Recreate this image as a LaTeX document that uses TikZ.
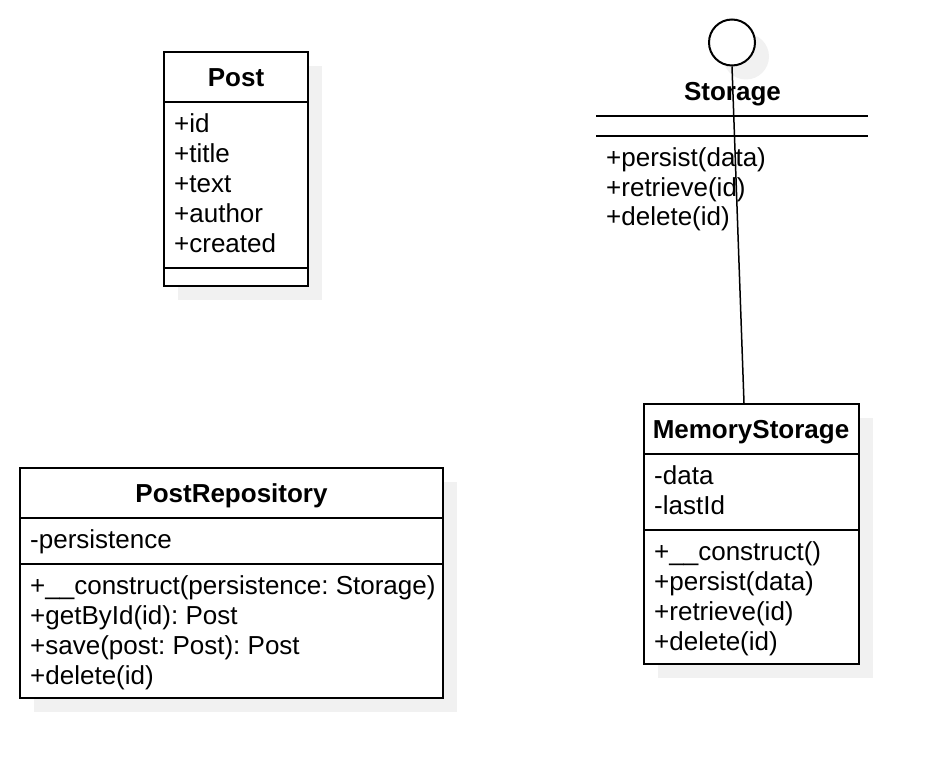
\documentclass[tikz,border=0pt]{standalone}
\usepackage{fontspec}
\setmainfont{Liberation Sans}
\frenchspacing
\usetikzlibrary{shadows}
\definecolor{shadowgray}{RGB}{241,241,241}
\tikzset{
  myshadow/.style={drop shadow={shadow xshift=14pt, shadow yshift=-14pt, fill=shadowgray, opacity=1}},
  classbox/.style={draw=black, line width=2pt, fill=white, rectangle, inner sep=0pt, myshadow},
  ifacecircle/.style={draw=black, line width=2pt, fill=white, circle, inner sep=0pt, minimum size=46pt, myshadow},
  sepline/.style={line width=2pt},
  member/.style={anchor=base west, inner sep=0pt, font=\fontsize{26}{30}\selectfont\frenchspacing},
  classtitle/.style={anchor=base, inner sep=0pt, font=\fontsize{26}{30}\selectfont\bfseries},
  realize/.style={line width=1.5pt},
}
\begin{document}
\begin{tikzpicture}[x=1pt,y=-1pt]
\useasboundingbox (0,0) rectangle (948,778);

% ---------- Post ----------
\node[classbox, minimum width=144pt, minimum height=234pt] (post) at (236,169) {};
\node[classtitle] (posttitle) at (236,87) {Post};
\draw[sepline] (164,102) -- (308,102);
\draw[sepline] (164,268) -- (308,268);
\node[member] (pa1) at (174,132.5) {+id};
\node[member] (pa2) at (174,162.5) {+title};
\node[member] (pa3) at (174,192.5) {+text};
\node[member] (pa4) at (174,222.5) {+author};
\node[member] (pa5) at (174,252.5) {+created};

% ---------- Storage (interface) ----------
\node[ifacecircle] (iface) at (732,42.5) {};
\node[classtitle] (stitle) at (732.5,100.5) {Storage};
\draw[sepline] (596,116) -- (868,116);
\draw[sepline] (596,136) -- (868,136);
\node[member] (sm1) at (606,167) {+persist(data)};
\node[member] (sm2) at (606,196.5) {+retrieve(id)};
\node[member] (sm3) at (606,226) {+delete(id)};

% ---------- MemoryStorage ----------
\node[classbox, minimum width=215pt, minimum height=260pt] (mem) at (751,534) {};
\node[classtitle] (mtitle) at (751,438) {MemoryStorage};
\draw[sepline] (644,454) -- (858,454);
\draw[sepline] (644,530) -- (858,530);
\node[member] (ma1) at (654,484) {-data};
\node[member] (ma2) at (654,514) {-lastId};
\node[member] (mm1) at (654,560) {+\_\_construct()};
\node[member] (mm2) at (654,590) {+persist(data)};
\node[member] (mm3) at (654,620) {+retrieve(id)};
\node[member] (mm4) at (654,650) {+delete(id)};

% ---------- PostRepository ----------
\node[classbox, minimum width=423pt, minimum height=230pt] (repo) at (231.5,583) {};
\node[classtitle] (rtitle) at (231.5,502) {PostRepository};
\draw[sepline] (20,518) -- (443,518);
\draw[sepline] (20,564) -- (443,564);
\node[member] (ra1) at (30,548) {-persistence};
\node[member] (rm1) at (30,594) {+\_\_construct(persistence: Storage)};
\node[member] (rm2) at (30,624) {+getById(id): Post};
\node[member] (rm3) at (30,654) {+save(post: Post): Post};
\node[member] (rm4) at (30,684) {+delete(id)};

% ---------- connector ----------
\draw[realize] (iface.south) -- ([xshift=-7pt]mem.north);
\end{tikzpicture}
\end{document}
